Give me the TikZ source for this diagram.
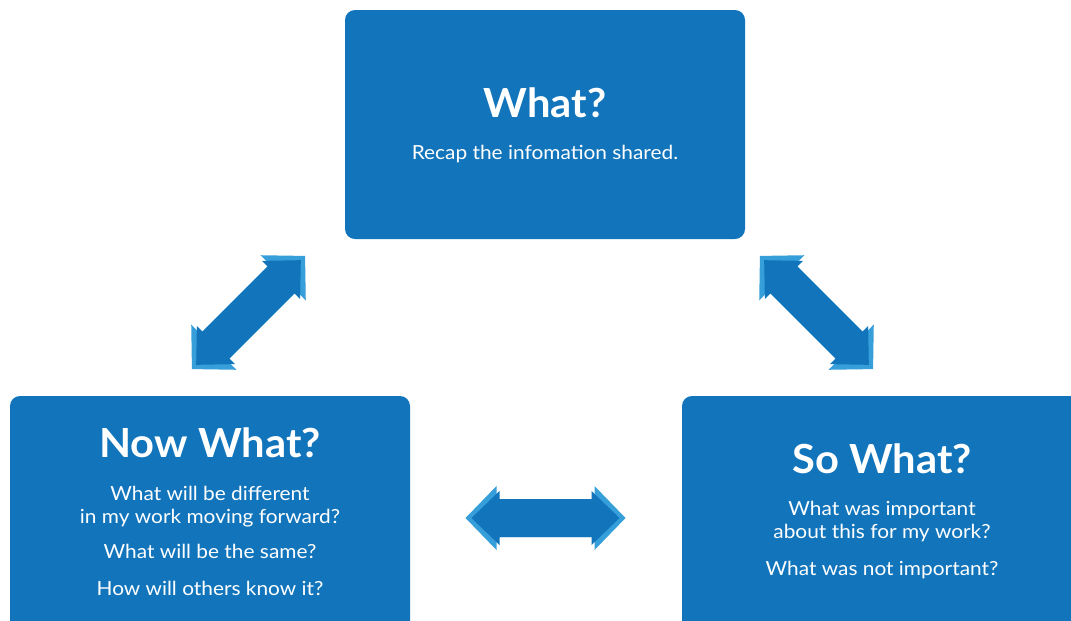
\documentclass[tikz,border=0pt]{standalone}
\usepackage{fontspec}
\setmainfont{Lato}
\newfontfamily\cardbody[FakeStretch=1.075]{Lato}
\newfontfamily\cardhead[FakeStretch=1.04]{Lato}
\definecolor{boxblue}{HTML}{1275BC}
\definecolor{rimblue}{HTML}{369FDA}
\tikzset{
  card/.style={fill=boxblue, rounded corners=0.25cm},
  title/.style={text=white, font=\cardhead\bfseries\fontsize{28.5}{30}\selectfont, anchor=base},
  line/.style={text=white, font=\cardbody\fontsize{13.8}{16}\selectfont, anchor=base, inner sep=0pt},
  dblarrow/.pic={
    \fill[rimblue] (-80,0) -- (-49,-32) -- (-49,-19) -- (49,-19) -- (49,-32)
      -- (80,0) -- (49,32) -- (49,19) -- (-49,19) -- (-49,32) -- cycle;
    \fill[boxblue] (-74,0) -- (-46,-27) -- (-46,-19) -- (46,-19) -- (46,-27)
      -- (74,0) -- (46,27) -- (46,19) -- (-46,19) -- (-46,27) -- cycle;
  }
}
\begin{document}
\begin{tikzpicture}[x=0.025cm, y=-0.025cm]
  \path[use as bounding box, clip] (0,0) rectangle (1071,620);
  \fill[white] (0,0) rectangle (1071,620);

  % the three cards
  \fill[card] (345,10) rectangle (745,239);
  \fill[card] (10,396) rectangle (410,660);
  \fill[card] (682,396) rectangle (1110,660);

  % What?
  \node[title] (what) at (545,117) {What?};
  \node[line] (what1) at (545,159) {Recap the infomation shared.};

  % Now What?
  \node[title] (now) at (210,457) {Now What?};
  \node[line] (now1) at (210,500) {What will be different};
  \node[line] (now2) at (210,523) {in my work moving forward?};
  \node[line] (now3) at (210,558) {What will be the same?};
  \node[line] (now4) at (210,595) {How will others know it?};

  % So What?
  \node[title] (so) at (882,473) {So What?};
  \node[line] (so1) at (882,515) {What was important};
  \node[line] (so2) at (882,538) {about this for my work?};
  \node[line] (so3) at (882,575) {What was not important?};

  % arrows between the cards
  \coordinate (left arrow) at (248.5,312.5);
  \coordinate (right arrow) at (816.5,312.5);
  \coordinate (low arrow) at (545.5,518);
  \pic[rotate=45] at (left arrow) {dblarrow};
  \pic[rotate=-45] at (right arrow) {dblarrow};
  \pic at (low arrow) {dblarrow};
\end{tikzpicture}
\end{document}
